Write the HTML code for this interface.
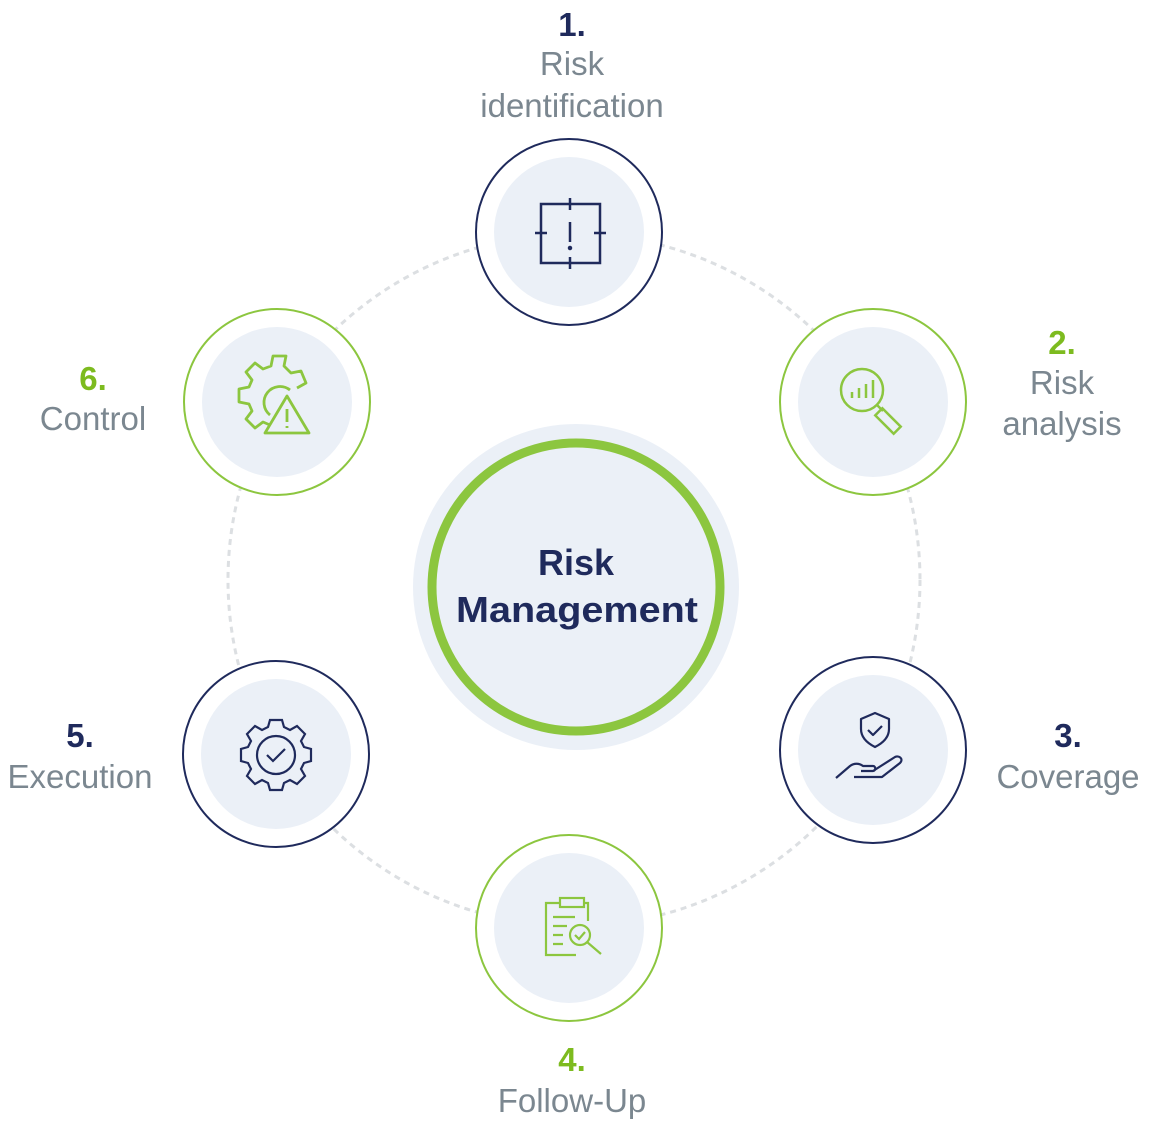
<!DOCTYPE html>
<html><head><meta charset="utf-8"><style>
body{margin:0;background:#fff;width:1158px;height:1138px;overflow:hidden;font-family:"Liberation Sans",sans-serif}
svg{display:block}
</style></head><body>
<svg width="1158" height="1138" viewBox="0 0 1158 1138">
<circle cx="574" cy="580" r="346" fill="none" stroke="#dcdfe2" stroke-width="3" stroke-dasharray="6 5"/>
<circle cx="576" cy="587" r="163" fill="#ebf0f7"/>
<circle cx="576" cy="587" r="144" fill="#ebf0f7" stroke="#8cc63f" stroke-width="9"/>
<text x="576" y="575" text-anchor="middle" font-size="36" font-weight="bold" fill="#1f2a5c">Risk</text>
<text x="577" y="622" text-anchor="middle" font-size="36" font-weight="bold" fill="#1f2a5c" textLength="242" lengthAdjust="spacingAndGlyphs">Management</text>
<g stroke-width="2">
<circle cx="569" cy="232" r="93" fill="#fff" stroke="#1f2a5c"/><circle cx="569" cy="232" r="75" fill="#ebf0f7"/>
<circle cx="873" cy="402" r="93" fill="#fff" stroke="#8cc63f"/><circle cx="873" cy="402" r="75" fill="#ebf0f7"/>
<circle cx="873" cy="750" r="93" fill="#fff" stroke="#1f2a5c"/><circle cx="873" cy="750" r="75" fill="#ebf0f7"/>
<circle cx="569" cy="928" r="93" fill="#fff" stroke="#8cc63f"/><circle cx="569" cy="928" r="75" fill="#ebf0f7"/>
<circle cx="276" cy="754" r="93" fill="#fff" stroke="#1f2a5c"/><circle cx="276" cy="754" r="75" fill="#ebf0f7"/>
<circle cx="277" cy="402" r="93" fill="#fff" stroke="#8cc63f"/><circle cx="277" cy="402" r="75" fill="#ebf0f7"/>
</g>
<g stroke="#1f2a5c" stroke-width="2.5" fill="none">
<rect x="541" y="204" width="59" height="59"/>
<path d="M570 198v12M570 257v12M535 233h12M594 233h12M570 222v20"/>
<circle cx="570" cy="248" r="1" fill="#1f2a5c"/></g>
<g stroke="#8cc63f" stroke-width="2.5" fill="none">
<circle cx="862" cy="390" r="21"/><path d="M877 405l6 6"/>
<rect x="883" y="408" width="10" height="26" transform="rotate(-45 888 421)"/>
<path d="M852 398v-6M859 398v-10M866 398v-14M873 398v-18"/></g>
<g stroke="#1f2a5c" stroke-width="2.2" fill="none" stroke-linejoin="round">
<path d="M875 713l-14 6v10c0 8 6 14 14 18c8-4 14-10 14-18v-10z"/>
<path d="M868 730l5 5l9-9"/>
<path d="M836 778l14-12c4-3 9-3 13 0h10c3 0 3 5 0 5h-12M873 771l22-14c4-2 9 2 5 6l-18 14h-28"/></g>
<g stroke="#8cc63f" stroke-width="2.2" fill="none">
<path d="M560 903h-14v52h30M584 903h4v18"/><rect x="560" y="898" width="24" height="9"/>
<path d="M553 917h22M553 926h14M553 935h10M553 944h10"/>
<circle cx="580" cy="935" r="10"/><path d="M575 935l4 4l6-7M587 942l14 12"/></g>
<g stroke="#1f2a5c" stroke-width="2.2" fill="none">
<path d="M270 720h12l2 7l6 3l7-4l8 8l-4 7l3 6l7 2v12l-7 2l-3 6l4 7l-8 8l-7-4l-6 3l-2 7h-12l-2-7l-6-3l-7 4l-8-8l4-7l-3-6l-7-2v-12l7-2l3-6l-4-7l8-8l7 4l6-3z"/>
<circle cx="276" cy="755" r="19"/><path d="M267 755l6 6l12-12"/></g>
<g stroke="#8cc63f" stroke-width="2.8" fill="none" stroke-linejoin="round">
<path d="M297 388l9-5l-5-12l-10 2l-7-7l2-10h-13l-2 10l-8 3l-8-6l-9 9l6 8l-3 7l-10 2v13l10 2l3 7l-6 8l9 9l8-6l7 3"/>
<path d="M270 415a16 16 0 1 1 20-25"/>
<path d="M287 396l-22 37h44z"/><path d="M287 409v13M287 426v2"/></g>
<g font-size="33" fill="#7b8790" text-anchor="middle">
<text x="572" y="36" font-weight="bold" fill="#1f2a5c">1.</text>
<text x="572" y="75">Risk</text><text x="572" y="117">identification</text>
<text x="1062" y="354" font-weight="bold" fill="#7dbb1f">2.</text>
<text x="1062" y="394">Risk</text><text x="1062" y="435">analysis</text>
<text x="1068" y="747" font-weight="bold" fill="#1f2a5c">3.</text>
<text x="1068" y="788">Coverage</text>
<text x="572" y="1071" font-weight="bold" fill="#7dbb1f">4.</text>
<text x="572" y="1112">Follow-Up</text>
<text x="80" y="747" font-weight="bold" fill="#1f2a5c">5.</text>
<text x="80" y="788">Execution</text>
<text x="93" y="390" font-weight="bold" fill="#7dbb1f">6.</text>
<text x="93" y="430">Control</text>
</g>
</svg>
</body></html>
